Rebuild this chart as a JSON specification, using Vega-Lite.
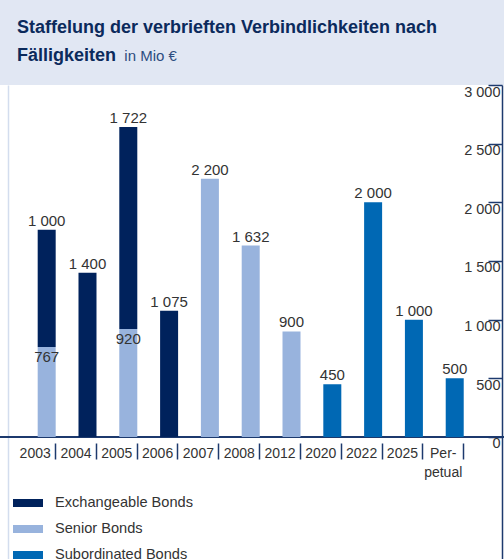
{
  "$schema": "https://vega.github.io/schema/vega-lite/v6.json",
  "autosize": {"type": "none"},
  "width": 504,
  "height": 474,
  "padding": {"left": 0, "right": 0, "top": 85, "bottom": 0},
  "background": "#e1e7f3",
  "view": {"fill": "white", "stroke": null},
  "title": {
    "text": ["Staffelung der verbrieften Verbindlichkeiten nach", "Fälligkeiten"],
    "anchor": "start",
    "frame": "group",
    "dx": 17,
    "offset": -16,
    "font": "Liberation Sans",
    "fontWeight": "bold",
    "fontSize": 18,
    "lineHeight": 28,
    "color": "#0b2a5c"
  },
  "data": {
    "values": [
      {"cat": "2003", "type": "Senior Bonds", "value": 767},
      {"cat": "2003", "type": "Exchangeable Bonds", "value": 1000},
      {"cat": "2004", "type": "Exchangeable Bonds", "value": 1400},
      {"cat": "2005", "type": "Senior Bonds", "value": 920},
      {"cat": "2005", "type": "Exchangeable Bonds", "value": 1722},
      {"cat": "2006", "type": "Exchangeable Bonds", "value": 1075},
      {"cat": "2007", "type": "Senior Bonds", "value": 2200},
      {"cat": "2008", "type": "Senior Bonds", "value": 1632},
      {"cat": "2012", "type": "Senior Bonds", "value": 900},
      {"cat": "2020", "type": "Subordinated Bonds", "value": 450},
      {"cat": "2022", "type": "Subordinated Bonds", "value": 2000},
      {"cat": "2025", "type": "Subordinated Bonds", "value": 1000},
      {"cat": "Per-petual", "type": "Subordinated Bonds", "value": 500}
    ]
  },
  "transform": [
    {"stack": "value", "groupby": ["cat"], "sort": [{"field": "type", "order": "descending"}], "as": ["v0", "v1"]},
    {"joinaggregate": [{"op": "max", "field": "v1", "as": "top"}], "groupby": ["cat"]}
  ],
  "resolve": {"axis": {"y": "independent"}},
  "layer": [
    {
      "mark": {"type": "rule", "color": "#1d3a6e", "strokeWidth": 1.5},
      "encoding": {
        "y": {"datum": 0, "type": "quantitative", "scale": {"domain": [-1040, 3000], "nice": false, "zero": false},
              "axis": {"orient": "left", "offset": -8, "domain": true, "domainColor": "#d3ddee", "domainWidth": 1.5, "labels": false, "ticks": false, "grid": false, "title": null}}
      }
    },
    {
      "mark": {"type": "bar", "width": 18, "xOffset": 12},
      "encoding": {
        "x": {"field": "cat", "type": "nominal", "sort": null,
              "scale": {"paddingInner": 0, "paddingOuter": 0.676, "align": 0.259},
              "axis": {"orient": "bottom", "offset": -116, "domain": false, "tickSize": 16, "tickColor": "#1d3a6e", "tickWidth": 1.5,
                       "tickOffset": 20.4, "labelOffset": -20.4, "labelPadding": -13, "labelBaseline": "top", "labelAngle": 0,
                       "labelFont": "Liberation Sans", "labelFontSize": 14, "labelColor": "#333333",
                       "labelLineHeight": 19, "labelExpr": "datum.value == 'Per-petual' ? ['Per-', 'petual'] : datum.label", "title": null}},
        "y": {"field": "v1", "type": "quantitative", "scale": {"domain": [-1040, 3000], "nice": false, "zero": false},
              "axis": {"orient": "right", "offset": -2, "values": [0, 500, 1000, 1500, 2000, 2500, 3000], "format": ",d",
                       "domain": true, "domainColor": "#1d3a6e", "domainWidth": 1.5, "tickSize": -14, "tickColor": "#1d3a6e", "tickWidth": 1.5,
                       "labelAlign": "right", "labelBaseline": "top", "labelPadding": 12, "labelDy": 6,
                       "labelFont": "Liberation Sans", "labelFontSize": 14.5, "labelColor": "#333333",
                       "grid": false, "title": null}},
        "y2": {"field": "v0"},
        "color": {"field": "type", "type": "nominal",
                  "scale": {"domain": ["Exchangeable Bonds", "Senior Bonds", "Subordinated Bonds"], "range": ["#00225c", "#98b3dd", "#0068b4"]},
                  "legend": {"orient": "none", "legendX": 18, "legendY": 408, "title": null, "padding": 0,
                             "symbolType": "M-1.5,-0.4H1.5V0.4H-1.5Z", "symbolSize": 400, "symbolStrokeWidth": 0,
                             "labelFont": "Liberation Sans", "labelFontSize": 14.6, "labelColor": "#333333",
                             "labelOffset": 17, "rowPadding": 9}}
      }
    },
    {
      "transform": [{"filter": "datum.v1 == datum.top"}],
      "mark": {"type": "text", "xOffset": 12, "baseline": "alphabetic", "dy": -4, "font": "Liberation Sans", "fontSize": 15, "color": "#333333"},
      "encoding": {
        "x": {"field": "cat", "type": "nominal", "sort": null},
        "y": {"field": "v1", "type": "quantitative", "axis": null},
        "text": {"field": "value", "type": "quantitative", "format": ",d"}
      }
    },
    {
      "transform": [{"filter": "datum.v1 < datum.top"}],
      "mark": {"type": "text", "xOffset": 12, "baseline": "top", "dy": 3, "font": "Liberation Sans", "fontSize": 15, "color": "#333333"},
      "encoding": {
        "x": {"field": "cat", "type": "nominal", "sort": null},
        "y": {"field": "v1", "type": "quantitative", "axis": null},
        "text": {"field": "value", "type": "quantitative", "format": ",d"}
      }
    },
    {
      "data": {"values": [{"note": "in Mio €"}]},
      "mark": {"type": "text", "align": "left", "baseline": "alphabetic", "dx": 8, "font": "Liberation Sans", "fontSize": 15, "color": "#2d4d80"},
      "encoding": {
        "x": {"datum": "2005", "type": "nominal"},
        "y": {"datum": 3205, "type": "quantitative", "axis": null},
        "text": {"field": "note", "type": "nominal"}
      }
    }
  ],
  "config": {
    "locale": {"number": {"decimal": ",", "thousands": " ", "grouping": [3], "currency": ["", " €"]}}
  }
}
